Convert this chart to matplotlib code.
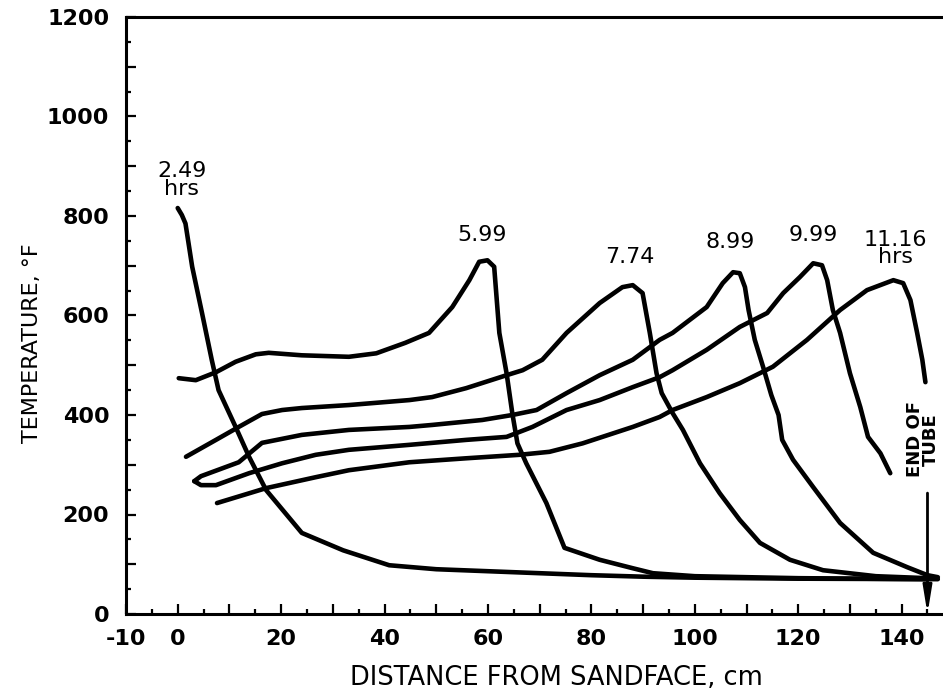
import matplotlib
matplotlib.use("Agg")
import matplotlib.pyplot as plt
from matplotlib.ticker import FixedLocator, MultipleLocator

# Temperature profiles along the combustion tube (distance in cm, temperature in deg F)
x_249 = [0.0, 0.8, 1.5, 2.1, 2.8, 4.7, 6.6, 7.9, 11.2, 13.8, 17.1, 24.0,
         32.0, 40.9, 50.0, 60.0, 70.0, 80.0, 90.0, 100.0, 120.0, 147.0]
t_249 = [816, 802, 785, 745, 698, 605, 510, 450, 376, 316, 249, 163,
         128, 98, 90, 86, 82, 78, 75, 73, 71, 70]

x_599 = [0.2, 3.5, 7.4, 11.2, 15.1, 17.6, 24.0, 33.1, 38.4, 44.0, 48.6,
         53.1, 56.4, 58.3, 59.9, 61.2, 62.2, 63.6, 64.7, 65.7, 67.4, 71.3,
         74.8, 81.6, 88.0, 91.9, 100.0, 120.0, 145.0]
t_599 = [474, 470, 486, 507, 522, 525, 520, 517, 524, 545, 565,
         617, 671, 708, 711, 698, 565, 484, 404, 343, 303, 223,
         133, 109, 92, 82, 76, 72, 70]

x_774 = [1.6, 7.4, 11.8, 16.3, 20.2, 24.0, 33.1, 44.8, 49.2, 55.8, 63.6,
         66.7, 70.5, 75.2, 81.6, 86.0, 88.0, 89.9, 91.3, 92.6, 93.6, 95.7,
         97.7, 101.0, 104.8, 108.7, 112.6, 118.4, 124.8, 135.0, 145.0]
t_774 = [316, 350, 376, 402, 410, 414, 420, 430, 436, 454, 480,
         490, 511, 565, 625, 657, 661, 645, 565, 484, 444, 404,
         370, 303, 243, 189, 143, 109, 88, 76, 72]

x_899 = [3.2, 4.5, 11.8, 16.3, 24.0, 33.1, 44.8, 49.2, 58.9, 64.7, 69.4,
         75.2, 81.6, 88.0, 93.2, 95.7, 102.3, 105.4, 107.4, 108.7, 109.7,
         110.4, 111.6, 113.2, 114.8, 116.2, 116.9, 119.0, 122.9, 128.1,
         134.5, 141.1, 145.0, 147.0]
t_899 = [267, 277, 305, 344, 360, 370, 376, 380, 390, 400, 410,
         444, 480, 511, 551, 565, 617, 665, 687, 685, 657,
         611, 551, 497, 440, 400, 350, 310, 255, 183,
         123, 94, 78, 74]

x_999 = [3.2, 4.5, 7.4, 13.8, 20.2, 26.7, 33.1, 44.8, 55.8, 63.6, 68.6,
         75.2, 81.6, 88.0, 93.2, 95.7, 102.3, 108.7, 114.0, 117.1, 120.3,
         122.9, 124.6, 125.6, 126.7, 128.1, 130.0, 132.0, 133.5, 135.9,
         137.8]
t_999 = [267, 259, 259, 283, 303, 320, 330, 340, 350, 356, 376,
         410, 430, 456, 476, 490, 531, 577, 605, 645, 677,
         705, 701, 671, 611, 565, 484, 416, 356, 323,
         283]

x_1116 = [7.6, 17.1, 26.7, 33.1, 44.8, 55.8, 66.1, 71.9, 78.3, 88.0, 93.2,
          95.7, 102.3, 108.7, 115.1, 121.7, 128.1, 133.3, 138.4, 140.3,
          141.7, 143.0, 144.0, 144.6]
t_1116 = [223, 253, 275, 289, 305, 313, 320, 326, 343, 376, 396,
          410, 436, 464, 497, 551, 611, 651, 671, 665,
          631, 565, 511, 466]

profiles = [(x_249, t_249), (x_599, t_599), (x_774, t_774),
            (x_899, t_899), (x_999, t_999), (x_1116, t_1116)]

time_labels = ["2.49\nhrs", "5.99", "7.74", "8.99", "9.99", "11.16\nhrs"]
label_x = [0.8, 58.9, 87.4, 106.8, 122.9, 138.8]
label_t = [872, 762, 718, 748, 762, 735]

tube_end_x = 145.0
x_ticks_labeled = [-10, 0, 20, 40, 60, 80, 100, 120, 140]
y_ticks_labeled = [0, 200, 400, 600, 800, 1000, 1200]

fig = plt.figure(figsize=(9.43, 6.92), dpi=100)
ax = fig.add_axes([126 / 943, 78 / 692, 817 / 943, 597 / 692])

for xs, ts in profiles:
    ax.plot(xs, ts, color="black", lw=3.3, solid_joinstyle="round",
            solid_capstyle="round")

for txt, lx, lt in zip(time_labels, label_x, label_t):
    ax.text(lx, lt, txt, ha="center", va="center", fontsize=16,
            linespacing=0.85, color="black")

# End-of-tube marker
ax.annotate("", xy=(tube_end_x, 0), xytext=(tube_end_x, 243),
            arrowprops=dict(arrowstyle="-|>,head_length=0.8,head_width=0.13",
                            lw=2.0, color="black", shrinkA=0, shrinkB=0,
                            mutation_scale=20))
ax.text(tube_end_x - 0.8, 351, "END OF\nTUBE", rotation=90, ha="center",
        va="center", fontsize=13, fontweight="bold", linespacing=0.85)

ax.set_xlim(-10, 148)
ax.set_ylim(0, 1200)

# x ticks: long every 10 cm, short every 5 cm, labels every 20 cm
x_major = list(range(-10, 141, 10))
ax.xaxis.set_major_locator(FixedLocator(x_major))
ax.set_xticklabels([("-10" if v == -10 else str(v)) if v in x_ticks_labeled else ""
                    for v in x_major])
ax.xaxis.set_minor_locator(MultipleLocator(5))

# y ticks: long every 100, short every 50, labels every 200
y_major = list(range(0, 1201, 100))
ax.yaxis.set_major_locator(FixedLocator(y_major))
ax.set_yticklabels([str(v) if v in y_ticks_labeled else "" for v in y_major])
ax.yaxis.set_minor_locator(MultipleLocator(50))

ax.tick_params(which="both", direction="in", width=1.6, color="black")
ax.tick_params(which="major", length=7.5)
ax.tick_params(which="minor", length=3.8)
ax.tick_params(axis="x", which="major", pad=11, labelsize=16)
ax.tick_params(axis="y", which="major", pad=12, labelsize=16)
for lab in ax.get_xticklabels() + ax.get_yticklabels():
    lab.set_fontweight("bold")

for side in ("left", "bottom", "top"):
    ax.spines[side].set_linewidth(2.2)
ax.spines["right"].set_visible(False)

fig.text(556 / 943, 1 - 678 / 692, "DISTANCE FROM SANDFACE, cm",
         ha="center", va="center", fontsize=18.5)
fig.text(32 / 943, 1 - 343 / 692, "TEMPERATURE, \u00b0F", rotation=90,
         ha="center", va="center", fontsize=16)

fig.savefig("out.png", dpi=100)
